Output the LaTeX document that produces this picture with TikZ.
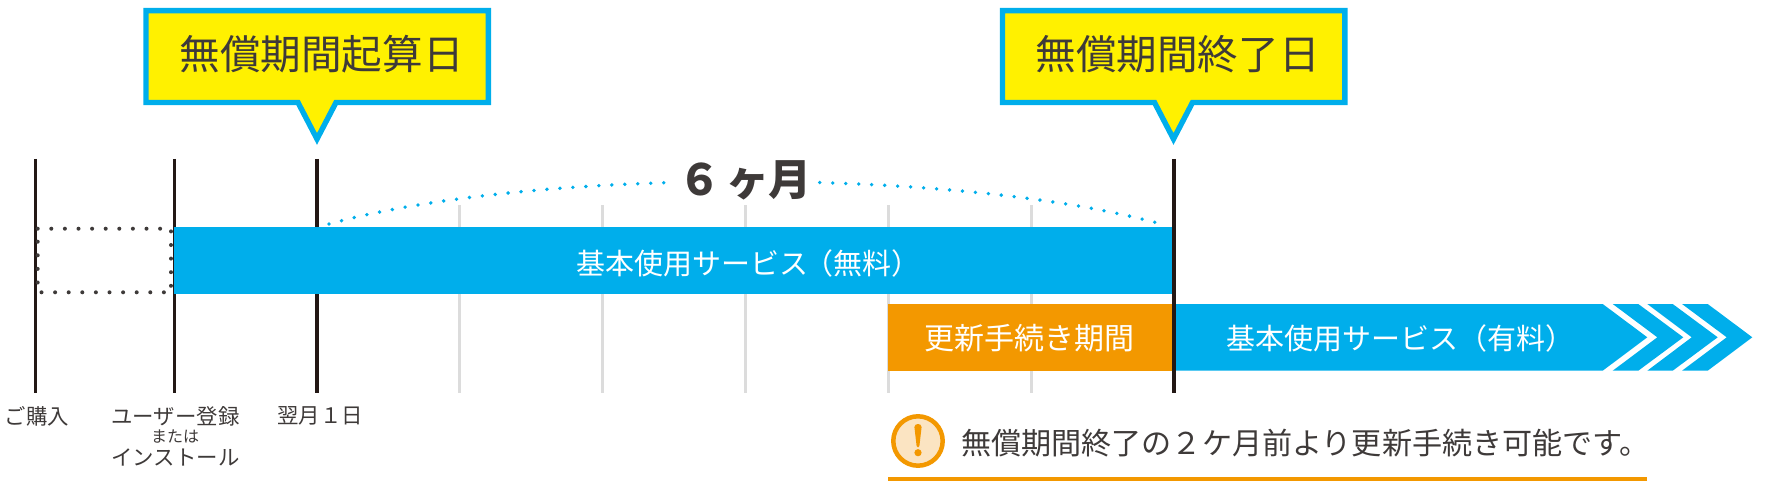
\documentclass[tikz,border=0pt]{standalone}
\usepackage{fontspec}
\setmainfont{Noto Sans CJK JP}
\definecolor{skyblue}{HTML}{00AEEB}
\definecolor{signyellow}{HTML}{FFF100}
\definecolor{signorange}{HTML}{F39800}
\definecolor{paleorange}{HTML}{FBE4C2}
\definecolor{tickblack}{HTML}{231815}
\definecolor{tickgray}{HTML}{DCDCDC}
\definecolor{inktext}{HTML}{3E3A39}
\tikzset{
  ticklong/.style={line width=3.6pt,color=tickblack},
  tickpale/.style={line width=3pt,color=tickgray},
  sign/.style={line width=5.4pt,draw=skyblue,fill=signyellow,miter limit=10},
  signtext/.style={inner sep=0pt,text=inktext,font=\fontsize{40.6}{40.6}\selectfont},
  bartext/.style={inner sep=0pt,text=white,font=\fontsize{29}{29}\selectfont},
  daytext/.style={inner sep=0pt,text=inktext,font=\fontsize{21.4}{21.4}\selectfont},
  dotgray/.style={line width=4pt,color=inktext,line cap=round,dash pattern=on 0pt off 13.6pt},
  dotblue/.style={line width=3.8pt,color=skyblue,line cap=round,dash pattern=on 0pt off 13pt}
}
\begin{document}
\begin{tikzpicture}[x=1pt,y=-1pt]
\useasboundingbox (0,0) rectangle (1765,484);
% pale month ticks
\draw[tickpale](459.7,205)--(459.7,393);
\draw[tickpale](602.3,205)--(602.3,393);
\draw[tickpale](745,205)--(745,393);
\draw[tickpale](888,205)--(888,393);
\draw[tickpale](1031,205)--(1031,393);
% black ticks
\draw[ticklong](35.5,159)--(35.5,393);
\draw[ticklong](174.3,159)--(174.3,393);
\draw[ticklong](317,159)--(317,393);
% dotted box
\draw[dotgray](37.7,228.7)--(171,228.7)--(171,292.3)--(37.7,292.3)--cycle;
% bars
\fill[color=skyblue](174,227)rectangle(1173,294);
\fill[color=signorange](888,304)rectangle(1173,371);
\fill[color=skyblue](1173,304)--(1602.7,304)--(1647.3,337.3)--(1602.7,370.7)--(1173,370.7)--cycle;
\fill[color=skyblue](1612.7,304)--(1638.3,304)--(1683.3,337.3)--(1638.3,370.7)--(1612.7,370.7)--(1657.3,337.3)--cycle;
\fill[color=skyblue](1647.3,304)--(1672.7,304)--(1717.7,337.3)--(1672.7,370.7)--(1647.3,370.7)--(1691.7,337.3)--cycle;
\fill[color=skyblue](1682,304)--(1707.7,304)--(1752.3,337.3)--(1707.7,370.7)--(1682,370.7)--(1726.7,337.3)--cycle;
\draw[ticklong](1173.8,159)--(1173.8,393);
% six months arc
\draw[dotblue](329,224)..controls(535,167.3)and(955,167.3)..(1161,224);
\node[fill=white,inner sep=0pt,minimum width=144pt,minimum height=46pt,text=inktext,font=\fontsize{43}{43}\bfseries] (months) at (745,180) {６\kern5pt ヶ\kern-1pt 月};
% signs
\draw[sign](146,10.7)--(488.3,10.7)--(488.3,102.5)--(336,102.5)--(317,139)--(298,102.5)--(146,102.5)--cycle;
\draw[sign](1002.5,10.7)--(1344.8,10.7)--(1344.8,102.5)--(1192.5,102.5)--(1173.5,139)--(1154.5,102.5)--(1002.5,102.5)--cycle;
\node[signtext] (startsign) at (321.5,54) {無償期間起算日};
\node[signtext] (endsign) at (1177.5,54) {無償期間終了日};
% bar labels
\node[bartext] (freebar) at (748.3,263) {基本使用サービス\kern-3.4pt（無料）};
\node[bartext,font=\fontsize{30}{30}\selectfont] (renewbar) at (1029,338) {更新手続き期間};
\node[bartext] (paidbar) at (1400,338) {基本使用サービス（有料）};
% day labels
\node[daytext] (buy) at (37,416) {ご購入};
\node[daytext] (signup) at (175.5,416) {ユーザー登録};
\node[daytext,font=\fontsize{16}{16}\selectfont] (either) at (175,436.7) {または};
\node[daytext] (install) at (175.5,457) {インストール};
\node[daytext] (nextmonth) at (320,416) {翌月１日};
% note
\draw[line width=4.5pt,draw=signorange,fill=paleorange](918,441)circle(24.7);
\fill[color=signorange](914.4,427)..controls(914.4,423)and(921.6,423)..(921.6,427)--(919.4,446)..controls(919.2,448)and(916.8,448)..(916.6,446)--cycle;
\fill[color=signorange](918,452.7)circle(3.6);
\node[inner sep=0pt,anchor=west,text=inktext,font=\fontsize{30.1}{30.1}\selectfont] (note) at (961,443) {無償期間終了の２ケ月前より更新手続き可能です。};
\draw[line width=4.3pt,color=signorange](888,478.7)--(1647,478.7);
\end{tikzpicture}
\end{document}
